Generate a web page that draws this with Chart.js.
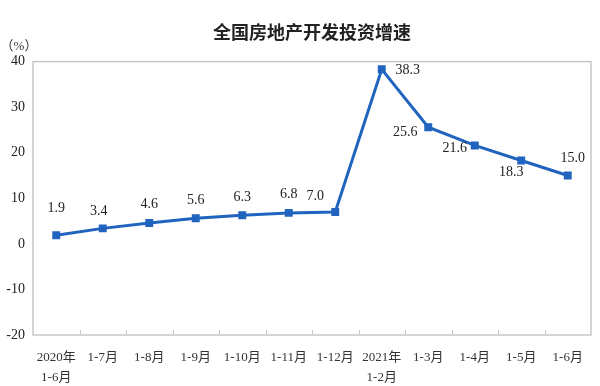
<!DOCTYPE html>
<html lang="zh">
<head>
<meta charset="UTF-8">
<title>全国房地产开发投资增速</title>
<script src="https://cdn.jsdelivr.net/npm/chart.js"></script>
<style>
    body { margin: 0; background: #fff; }
    #wrap { width: 600px; height: 386px; }
</style>
</head>
<body>
<div id="wrap"><canvas id="myChart"></canvas></div>
<script>
    // data
    const categories = [
        ['2020年', '1-6月'], '1-7月', '1-8月', '1-9月', '1-10月', '1-11月', '1-12月',
        ['2021年', '1-2月'], '1-3月', '1-4月', '1-5月', '1-6月'
    ];
    const growth = [1.9, 3.4, 4.6, 5.6, 6.3, 6.8, 7.0, 38.3, 25.6, 21.6, 18.3, 15.0];
    const yTicks = [-20, -10, 0, 10, 20, 30, 40];

    // where each value label sits relative to its point (px)
    const labelOffsets = [
        [0, -27], [-4, -17], [0, -19], [0, -18], [0, -18], [0, -19], [-20, -16],
        [26, 1], [-23, 5], [-20, 3], [-10, 12], [5, -17]
    ];

    const serif = '"Liberation Serif", "Noto Sans CJK SC", serif';
    const blue = '#2064bf';

    const frame = {
        id: 'frame',
        beforeDatasetsDraw(chart) {
            const { ctx, chartArea: a, scales: { x } } = chart;
            ctx.save();
            ctx.strokeStyle = '#c8c8c8';
            ctx.lineWidth = 1.5;
            ctx.strokeRect(a.left, a.top, a.right - a.left, a.bottom - a.top);
            // small ticks between categories, pointing inward
            ctx.lineWidth = 1;
            for (let i = 1; i < categories.length; i++) {
                const px = Math.round((x.getPixelForValue(i - 1) + x.getPixelForValue(i)) / 2) + 0.5;
                ctx.beginPath();
                ctx.moveTo(px, a.bottom);
                ctx.lineTo(px, a.bottom - 5);
                ctx.stroke();
            }
            ctx.restore();
        },
        afterDatasetsDraw(chart) {
            const { ctx } = chart;
            const meta = chart.getDatasetMeta(0);
            ctx.save();
            ctx.font = '14px ' + serif;
            ctx.fillStyle = '#222';
            ctx.textAlign = 'center';
            ctx.textBaseline = 'middle';
            meta.data.forEach((pt, i) => {
                const [dx, dy] = labelOffsets[i];
                ctx.fillText(growth[i].toFixed(1), pt.x + dx, pt.y + dy);
            });
            // unit label
            const y = chart.scales.y;
            ctx.font = '13px ' + serif;
            ctx.fillStyle = '#333';
            ctx.fillText('（%）', 19, y.top - 15);
            ctx.restore();
        }
    };

    new Chart(document.getElementById('myChart'), {
        type: 'line',
        data: {
            labels: categories,
            datasets: [{
                data: growth,
                borderColor: blue,
                backgroundColor: blue,
                borderWidth: 3,
                pointStyle: 'rect',
                pointRadius: 3.5,
                pointHoverRadius: 3.5,
                tension: 0,
                fill: false
            }]
        },
        options: {
            responsive: true,
            maintainAspectRatio: false,
            animation: false,
            layout: { padding: { top: 0, right: 9, left: 0, bottom: 0 } },
            plugins: {
                legend: { display: false },
                tooltip: { enabled: false },
                title: {
                    display: true,
                    fullSize: false,
                    text: '全国房地产开发投资增速',
                    color: '#222',
                    font: { family: '"Noto Sans CJK SC", sans-serif', size: 18, weight: 'bold' },
                    padding: { top: 21, bottom: 19 }
                }
            },
            scales: {
                x: {
                    offset: true,
                    grid: { display: false, drawTicks: false },
                    border: { display: false },
                    ticks: {
                        color: '#333',
                        font: { family: serif, size: 13, lineHeight: 1.5 },
                        padding: 13,
                        maxRotation: 0,
                        autoSkip: false
                    },
                    afterFit(s) { s.height = 51; }
                },
                y: {
                    min: yTicks[0],
                    max: yTicks[yTicks.length - 1],
                    grid: { display: false, drawTicks: false },
                    border: { display: false },
                    afterBuildTicks(s) { s.ticks = yTicks.map(v => ({ value: v })); },
                    ticks: {
                        color: '#222',
                        font: { family: serif, size: 14 },
                        padding: 8
                    },
                    afterFit(s) { s.width = 33; }
                }
            }
        },
        plugins: [frame]
    });
</script>
</body>
</html>
